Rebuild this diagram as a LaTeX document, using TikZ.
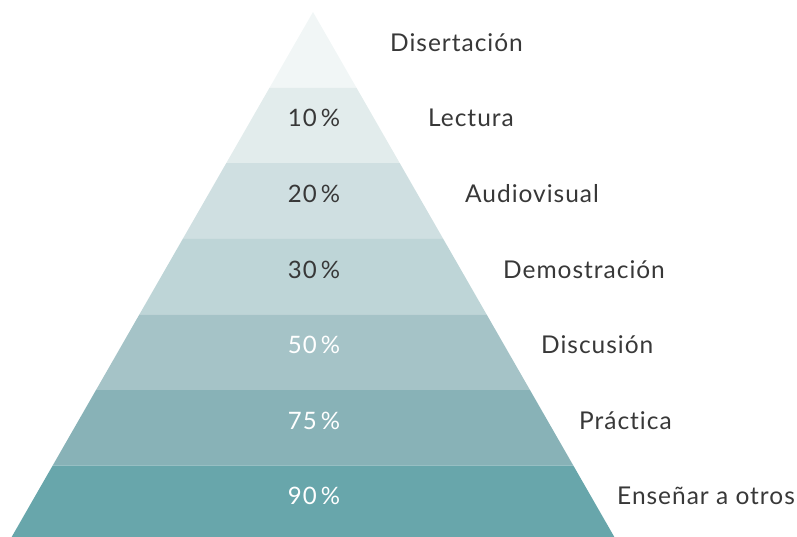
\documentclass[tikz,border=0pt]{standalone}
\usepackage{fontspec}
\setmainfont{Lato}[RawFeature={-liga;-dlig}]
\newfontfamily\lblfont{Lato}[RawFeature={-liga;-dlig},LetterSpace=4.0]
\definecolor{b1}{HTML}{F1F6F6}
\definecolor{b2}{HTML}{E2ECEC}
\definecolor{b3}{HTML}{CFDFE1}
\definecolor{b4}{HTML}{BED5D7}
\definecolor{b5}{HTML}{A5C3C7}
\definecolor{b6}{HTML}{88B2B7}
\definecolor{b7}{HTML}{68A6AB}
\definecolor{txt}{HTML}{383838}
\begin{document}
\begin{tikzpicture}[x=1pt,y=-1pt,
  pct/.style={anchor=base,font=\lblfont\fontsize{24}{28}\selectfont,inner sep=0pt},
  lbl/.style={anchor=base west,font=\lblfont\fontsize{24.5}{28}\selectfont,inner sep=0pt,text=txt}]
\useasboundingbox (0,0) rectangle (797,536);
\begin{scope}
\clip (0,0) rectangle (797,536);
\foreach \k/\c in {0/b1,1/b2,2/b3,3/b4,4/b5,5/b6,6/b7}{
  \pgfmathsetmacro\yt{12+75.6*\k}
  \pgfmathsetmacro\yb{12+75.6*(\k+1)}
  \pgfmathsetmacro\wt{(\yt-12)*0.574}
  \pgfmathsetmacro\wb{(\yb-12)*0.574}
  \fill[\c] (313-\wt,\yt) -- (313+\wt,\yt) -- (313+\wb,\yb) -- (313-\wb,\yb) -- cycle;
}
\end{scope}
\node[pct,text=txt] (p10) at (314,126.5) {10\,\%};
\node[pct,text=txt] (p20) at (314,202.5) {20\,\%};
\node[pct,text=txt] (p30) at (314,278.5) {30\,\%};
\node[pct,text=white] (p50) at (314,353.5) {50\,\%};
\node[pct,text=white] (p75) at (314,429.5) {75\,\%};
\node[pct,text=white] (p90) at (314,504.5) {90\,\%};
\node[lbl] (l1) at (390,51.5) {Disertación};
\node[lbl] (l2) at (428,126.5) {Lectura};
\node[lbl] (l3) at (465,202.5) {Audiovisual};
\node[lbl] (l4) at (503,278.5) {Demostración};
\node[lbl] (l5) at (541,353.5) {Discusión};
\node[lbl] (l6) at (579,429.5) {Práctica};
\node[lbl] (l7) at (617,504.5) {Enseñar a otros};
\end{tikzpicture}
\end{document}
